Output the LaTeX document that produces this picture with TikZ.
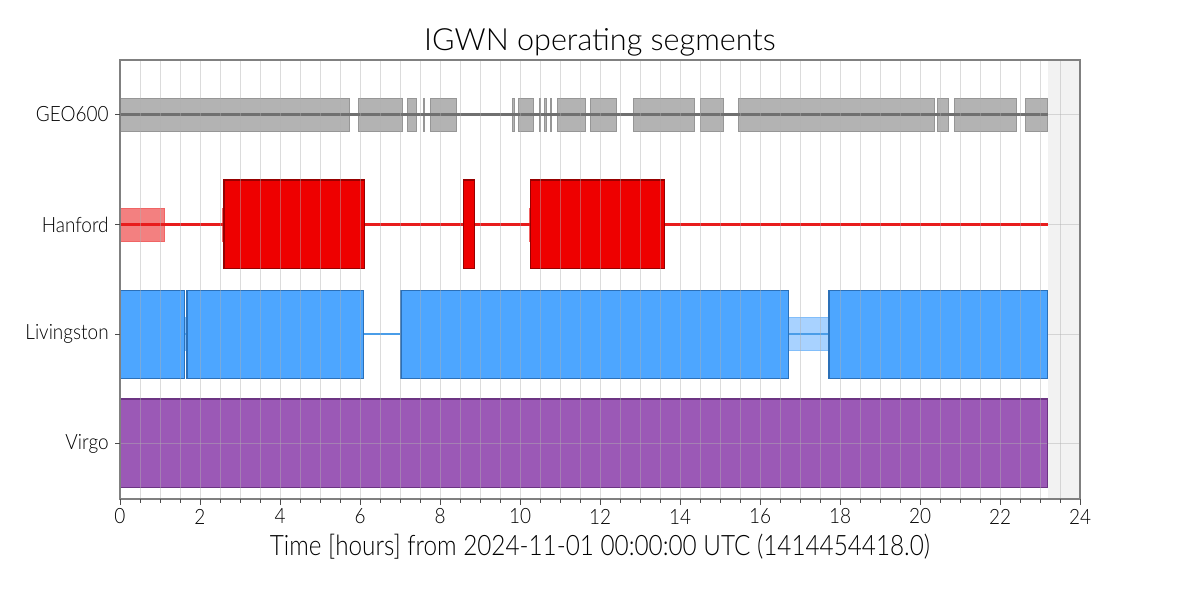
\documentclass[tikz,border=0pt]{standalone}
\usepackage{fontspec}
\setmainfont{Lato}[UprightFont={* Light}]
\definecolor{geofill}{RGB}{179,179,179}
\definecolor{geoedge}{RGB}{150,150,150}
\definecolor{geoline}{RGB}{112,112,112}
\definecolor{hfill}{RGB}{238,0,0}
\definecolor{hedge}{RGB}{150,0,0}
\definecolor{hline}{RGB}{232,28,28}
\definecolor{hlight}{RGB}{243,128,128}
\definecolor{hlightedge}{RGB}{240,100,100}
\definecolor{lfill}{RGB}{77,166,255}
\definecolor{ledge}{RGB}{43,112,184}
\definecolor{llight}{RGB}{168,210,255}
\definecolor{llightedge}{RGB}{130,190,250}
\definecolor{lline}{RGB}{74,157,232}
\definecolor{vfill}{RGB}{155,89,182}
\definecolor{vedge}{RGB}{108,52,131}
\definecolor{shadebg}{RGB}{242,242,242}
\definecolor{framec}{RGB}{128,128,128}
\definecolor{gridc}{RGB}{176,176,176}
\tikzset{
  geobox/.style={fill=geofill,draw=geoedge,line width=0.5pt},
  hbox/.style={fill=hfill,draw=hedge,line width=0.6pt},
  hlbox/.style={fill=hlight,draw=hlightedge,line width=0.4pt},
  lbox/.style={fill=lfill,draw=ledge,line width=0.6pt},
  llbox/.style={fill=llight,draw=llightedge,line width=0.4pt},
  vbox/.style={fill=vfill,draw=vedge,line width=0.6pt},
  trackline/.style={line width=1.5pt},
  gridline/.style={draw=gridc,opacity=0.45,line width=0.5pt},
  ticklbl/.style={font=\fontsize{12}{14}\selectfont,inner sep=0pt},
  ylbl/.style={font=\fontsize{12}{14}\selectfont,inner sep=0pt,anchor=east},
}
\newcommand{\narrow}[1]{\scalebox{0.9}[1]{#1}}
\begin{document}
\begin{tikzpicture}[x=0.02cm,y=-0.02cm]
\useasboundingbox (0,0) rectangle (1200,600);
\fill[white] (0,0) rectangle (1200,600);
% unavailable region
\fill[shadebg] (1047.5,60) rectangle (1080,499);
% horizontal grid (below the tracks)
\foreach \yy in {114.5,224.5,334,443.5}
  \draw[gridline] (120,\yy) -- (1080,\yy);
% GEO600
\foreach \a/\b in {120/349.7,358.3/402.3,407/416.3,423.5/424.5,430/456.3,512/514.7,518.3/533.3,539/540,544.3/546,550/551,557.3/585.7,590.3/616.7,633/694.3,700.3/723.7,738.3/934.7,937.3/948.7,954/1016.7,1025.3/1047.7}
  \draw[geobox] (\a,98) rectangle (\b,131.5);
\draw[trackline,geoline] (120,114.5) -- (1047.7,114.5);
% Hanford
\draw[hlbox] (120,208.3) rectangle (164.7,241.7);
\draw[hlbox] (222,208.3) rectangle (224,241.7);
\draw[hlbox] (529,208.3) rectangle (530.3,241.7);
\draw[trackline,hline] (120,224.5) -- (1047.5,224.5);
\foreach \a/\b in {224/364.7,463.3/474.7,530.3/664.7}
  \draw[hbox] (\a,180) rectangle (\b,268.7);
% Livingston
\draw[llbox] (185,317) rectangle (187,350.7);
\draw[llbox] (788.7,317) rectangle (829,350.7);
\draw[trackline,lline] (120,334) -- (1047.3,334);
\foreach \a/\b in {120/184.7,187/363.7,401/788.7,829/1047.3}
  \draw[lbox] (\a,290.3) rectangle (\b,378.7);
% Virgo
\draw[vbox] (120,399) rectangle (1047.3,487.7);
\draw[gridline] (120,443.5) -- (1047.3,443.5);
% vertical grid (over the tracks)
\foreach \i in {1,...,47}
  \draw[gridline] ({120+20*\i},60) -- ({120+20*\i},499);
% frame
\draw[framec,line width=0.6pt] (120,60) rectangle (1080,499);
% ticks
\foreach \i in {0,...,48}
  \draw[black!70,line width=0.5pt] ({120+20*\i},499) -- ({120+20*\i},502.5);
\foreach \i in {0,2,...,24}
  \draw[black!70,line width=0.5pt] ({120+40*\i},499) -- ({120+40*\i},505);
\foreach \i in {0,2,...,24}
  \node[ticklbl] (xt\i) at ({120+40*\i},516.5) {\narrow{\i}};
\foreach \yy in {114.5,224.5,334,443.5}
  \draw[black!70,line width=0.5pt] (115,\yy) -- (120,\yy);
\node[ylbl] (yg) at (109,114.5) {\narrow{GEO600}};
\node[ylbl] (yh) at (109,224.5) {\narrow{Hanford}};
\node[ylbl] (yl) at (109,334) {\narrow{Livingston}};
\node[ylbl] (yv) at (109,443.5) {\narrow{Virgo}};
% labels
\node[font=\fontsize{17.4}{20}\selectfont,inner sep=0pt] (title) at (600,42) {IGWN operating segments};
\node[font=\fontsize{16}{19}\selectfont,inner sep=0pt] (xlabel) at (600,547) {\scalebox{0.864}[1]{Time [hours] from 2024-11-01 00:00:00 UTC (1414454418.0)}};
\end{tikzpicture}
\end{document}
